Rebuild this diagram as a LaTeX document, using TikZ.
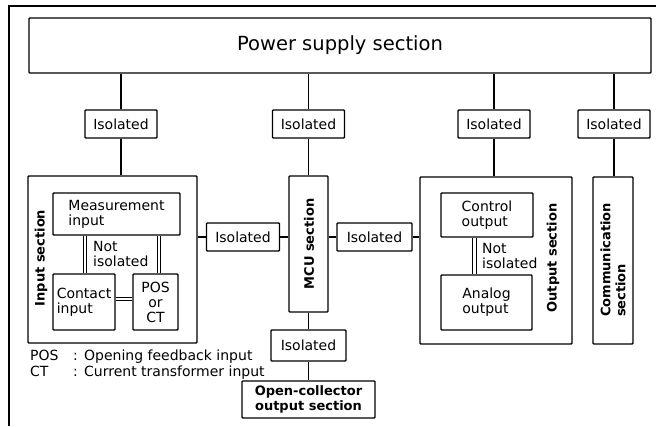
\documentclass[tikz,border=0pt]{standalone}
\usepackage{fontspec}
\setmainfont{DejaVu Sans}
\begin{document}
\begin{tikzpicture}[x=1pt,y=-1pt,
  box/.style={draw, line width=1.4pt, rounded corners=0.8pt, inner sep=0pt, align=center, font=\fontsize{14}{15}\selectfont},
  iso/.style={box, minimum width=72pt, minimum height=28pt},
  sec/.style={font=\fontsize{13}{15}\bfseries\selectfont, rotate=90, inner sep=0pt, align=left},
  lnk/.style={line width=1.4pt},
  dbl/.style={double, double distance=2.6pt, line width=1pt, shorten >=0.7pt, shorten <=0.7pt},
  txt/.style={font=\fontsize{14}{15}\selectfont, inner sep=0pt}]
\useasboundingbox (0,0) rectangle (656,426);
% frame (cropped)
\draw[lnk] (9,426) -- (9,6) -- (656,6);
% power supply
\node[box, minimum width=622pt, minimum height=55pt, font=\fontsize{19.5}{22}\selectfont] (power) at (340,45.5) {Power supply section};
% isolated row
\node[iso] (i1) at (121,124) {Isolated};
\node[iso] (i2) at (308.5,124) {Isolated};
\node[iso] (i3) at (494,124) {Isolated};
\node[iso] (i4) at (614,124) {Isolated};
% input section
\node[box, minimum width=169pt, minimum height=167pt] (input) at (112.5,259.5) {};
\node[box, minimum width=127pt, minimum height=42pt, align=left] (meas) at (116.5,214) {Measurement\\input};
\node[box, minimum width=62pt, minimum height=56pt, align=left] (contact) at (84,302) {Contact\\input};
\node[box, minimum width=45pt, minimum height=56pt] (posct) at (155.5,302) {POS\\or\\CT};
\node[sec] (inlab) at (41,258) {Input section};
\node[txt, anchor=west, align=left] (ni1) at (93,254) {Not\\isolated};
% MCU
\node[box, minimum width=39pt, minimum height=136pt] (mcu) at (308.5,244) {};
\node[sec] (mculab) at (309,244) {MCU section};
\node[iso, minimum width=73pt] (i5) at (243,237) {Isolated};
\node[iso, minimum width=75pt] (i6) at (374.5,237) {Isolated};
\node[iso, minimum width=75pt, minimum height=31pt] (i7) at (308.5,345.5) {Isolated};
\node[box, minimum width=133pt, minimum height=37pt, font=\fontsize{13}{15}\bfseries\selectfont] (oc) at (308.5,399.5) {Open-collector\\output section};
% output section
\node[box, minimum width=152pt, minimum height=167pt] (output) at (496,260.5) {};
\node[box, minimum width=92pt, minimum height=44pt, align=left] (ctrl) at (487,215) {Control\\output};
\node[box, minimum width=91pt, minimum height=55pt, align=left] (analog) at (486.5,302.5) {Analog\\output};
\node[sec] (outlab) at (553,258) {Output section};
\node[txt, anchor=west, align=left] (ni2) at (482,256) {Not\\isolated};
% communication
\node[box, minimum width=40pt, minimum height=167pt] (comm) at (613,260.5) {};
\node[sec] (commlab) at (613,260) {Communication\\section};
% legend
\node[txt, anchor=base west] (legend) at (30,360) {\begin{tabular}[t]{@{}p{43pt}@{}p{11pt}@{}l@{}}POS & : & Opening feedback input\\[1.5pt] CT & : & Current transformer input\end{tabular}};
% connectors
\draw[lnk] (i1.north) -- (i1.north |- power.south);
\draw[lnk] (i2.north) -- (i2.north |- power.south);
\draw[lnk] (i3.north) -- (i3.north |- power.south);
\draw[lnk] (i4.north) -- (i4.north |- power.south);
\draw[lnk] (i1.south) -- (i1.south |- input.north);
\draw[lnk] (i2.south) -- (i2.south |- mcu.north);
\draw[lnk] (i3.south) -- (i3.south |- output.north);
\draw[lnk] (i4.south) -- (i4.south |- comm.north);
\draw[lnk] (i5.west) -- (i5.west -| input.east);
\draw[lnk] (i5.east) -- (i5.east -| mcu.west);
\draw[lnk] (i6.west) -- (i6.west -| mcu.east);
\draw[lnk] (i6.east) -- (i6.east -| output.west);
\draw[lnk] (mcu.south) -- (i7.north);
\draw[lnk] (i7.south) -- (oc.north);
% not-isolated double connections
\draw[dbl] ([xshift=1pt]contact.north) -- ([xshift=1pt]contact.north |- meas.south);
\draw[dbl] ([xshift=3.5pt]posct.north) -- ([xshift=3.5pt]posct.north |- meas.south);
\draw[dbl] ([yshift=3pt]contact.east) -- ([yshift=3pt]posct.west);
\draw[dbl] ([xshift=-12pt]analog.north) -- ([xshift=-12pt]analog.north |- ctrl.south);
\end{tikzpicture}
\end{document}
